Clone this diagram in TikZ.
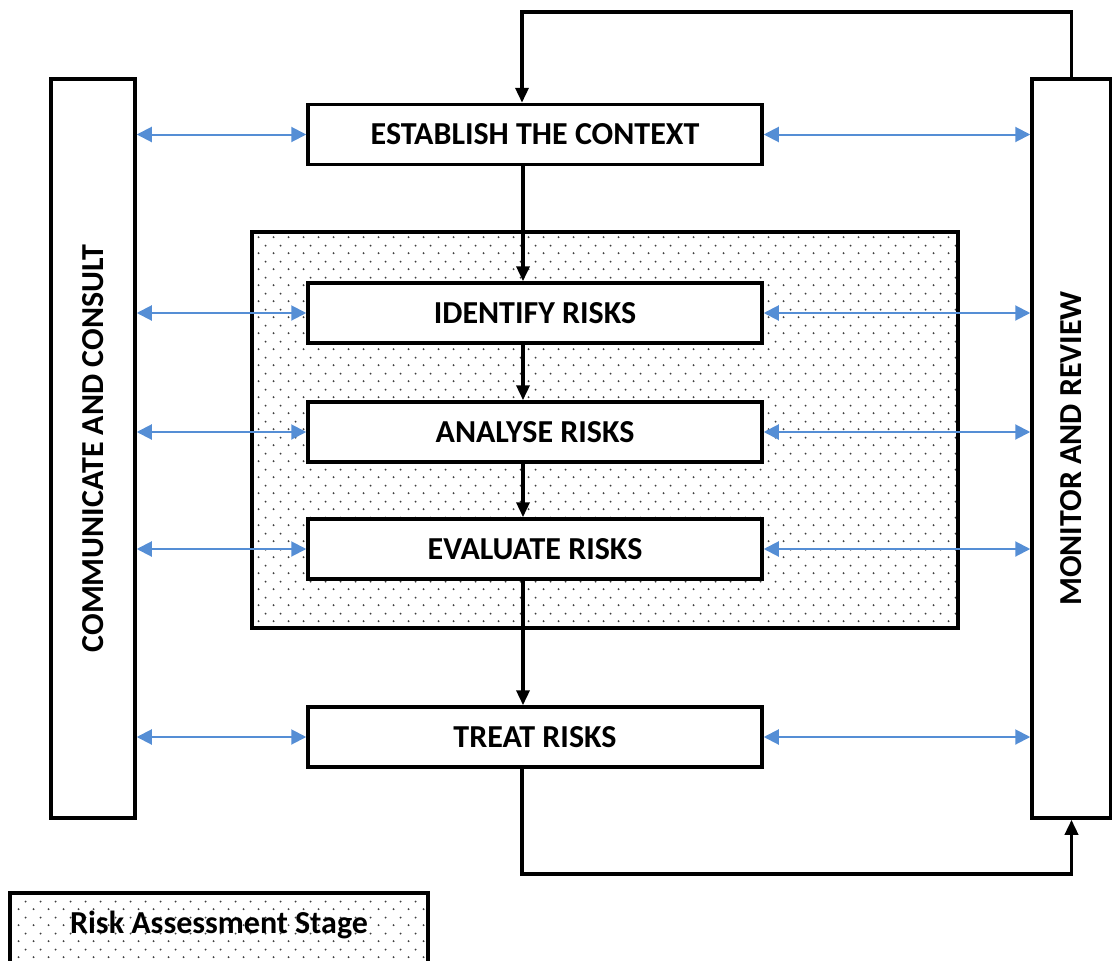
\documentclass[tikz,border=0pt]{standalone}
\usepackage{fontspec}
\setmainfont{Carlito}
\usetikzlibrary{arrows.meta, patterns}

\definecolor{linkblue}{RGB}{85,142,213}

\pgfdeclarepatternformonly{stagedots}{\pgfqpoint{0pt}{0pt}}{\pgfqpoint{15pt}{16pt}}{\pgfqpoint{15pt}{16pt}}{
    \pgfpathcircle{\pgfqpoint{3.75pt}{4pt}}{1.1pt}
    \pgfpathcircle{\pgfqpoint{11.25pt}{12pt}}{1.1pt}
    \pgfusepath{fill}
}

\begin{document}
\begin{tikzpicture}[
    x=1pt, y=-1pt,
    font=\fontsize{32}{38}\selectfont\bfseries,
    stage/.style={
        draw, line width=3.5pt, fill=white,
        minimum width=454pt, minimum height=60pt,
    },
    side/.style={
        draw, line width=3.5pt, fill=white, rotate=90,
        minimum width=739pt,
    },
    dotted area/.style={
        draw, line width=3.5pt, pattern=stagedots, pattern color=black!75,
    },
    flow/.style={-{Triangle[length=15pt, width=13pt]}, line width=3.5pt},
    link/.style={{Triangle[length=15pt, width=15pt]}-{Triangle[length=15pt, width=15pt]}, line width=2pt, draw=linkblue},
]

\useasboundingbox (0,0) rectangle (1112,961);

% risk assessment area
\node[dotted area, minimum width=706pt, minimum height=396pt] (assess) at (605,430) {};

\node[side, minimum height=84pt] (comm) at (93,448.5) {COMMUNICATE AND CONSULT};
\node[side, minimum height=79pt] (monitor) at (1071.5,448.5) {MONITOR AND REVIEW};

\node[stage] (context) at (535,134.5) {ESTABLISH THE CONTEXT};
\node[stage] (identify) at (535,313) {IDENTIFY RISKS};
\node[stage] (analyse) at (535,432) {ANALYSE RISKS};
\node[stage] (evaluate) at (535,549) {EVALUATE RISKS};
\node[stage] (treat) at (535,737) {TREAT RISKS};

% legend
\node[dotted area, minimum width=418pt, minimum height=76pt, inner sep=0pt] (legend) at (219,931) {};
\node (legendtext) at (219,925) {Risk Assessment Stage};

% main flow
\draw[flow] ([xshift=-12pt]context.south) -- ([xshift=-12pt]identify.north);
\draw[flow] ([xshift=-12pt]identify.south) -- ([xshift=-12pt]analyse.north);
\draw[flow] ([xshift=-12pt]analyse.south) -- ([xshift=-12pt]evaluate.north);
\draw[flow] ([xshift=-12pt]evaluate.south) -- ([xshift=-12pt]treat.north);

% feedback loops (side boxes are rotated: east is their top, west their bottom)
\coordinate (looptop) at (522,12);
\coordinate (loopbot) at (522,874);
\draw[flow] (monitor.east) |- (looptop) -- ([xshift=-13pt]context.north);
\draw[flow] ([xshift=-13pt]treat.south) -- (loopbot) -| (monitor.west);

% consult and review links
\foreach \s in {context, identify, analyse, evaluate, treat} {
    \draw[link] (comm.south |- \s) -- (\s.west);
    \draw[link] (\s.east) -- (monitor.north |- \s);
}

\end{tikzpicture}
\end{document}
